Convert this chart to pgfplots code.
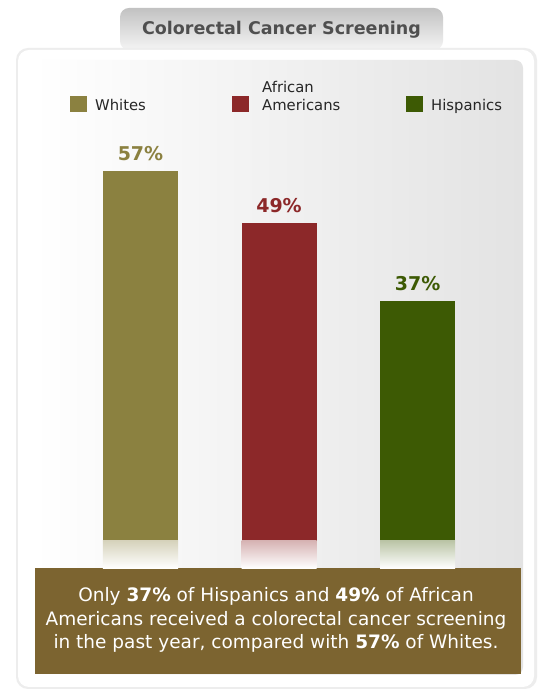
\documentclass[border=0pt]{standalone}
\usepackage{fontspec}
\setmainfont{DejaVu Sans}
\usepackage{pgfplots}
\pgfplotsset{compat=1.18}
\definecolor{cwhites}{HTML}{8B8140}
\definecolor{cafrican}{HTML}{8C2829}
\definecolor{chisp}{HTML}{3D5A04}
\definecolor{cbox}{HTML}{7C6430}
\definecolor{ctitle}{HTML}{4F4F4F}
\begin{document}
\begin{tikzpicture}[x=1pt,y=1pt]
\useasboundingbox (0,0) rectangle (543,690);
\fill[white] (0,0) rectangle (543,690);
% title tab
\shade[top color=black!24, bottom color=black!4, rounded corners=9pt] (120,640) rectangle (443,682);
\node[font=\bfseries\fontsize{17.5}{20}\selectfont, text=ctitle] at (281.5,660) {Colorectal Cancer Screening};
% outer and inner panels
\fill[black!7, rounded corners=12pt] (16,1) rectangle (537,642);
\fill[white, rounded corners=11pt] (18,3) rectangle (534,640);
\shade[left color=white, middle color=white, right color=black!11, rounded corners=8pt] (33,15) rectangle (523,630);
% caption box
\fill[cbox] (35,16) rectangle (521,122);
\node[text=white, align=center, font=\fontsize{18.5}{23.5}\selectfont] at (276,70)
  {Only \textbf{37\%} of Hispanics and \textbf{49\%} of African\\
   Americans received a colorectal cancer screening\\
   in the past year, compared with \textbf{57\%} of Whites.};
\begin{axis}[
    at={(33pt,149pt)}, anchor=south west,
    scale only axis, width=489pt, height=370pt,
    xmin=-0.776, xmax=2.754, ymin=0, ymax=57,
    hide axis, clip=false,
    ybar, bar width=75pt, bar shift=0pt,
    nodes near coords={\pgfmathprintnumber[assume math mode=true]{\pgfplotspointmeta}\%},
    every node near coord/.append style={font=\bfseries\fontsize{19}{22}\selectfont, yshift=7pt},
    legend columns=3,
    legend image code/.code={\fill[#1, draw=none] (0pt,-2pt) rectangle (17pt,14pt);},
    legend style={at={(rel axis cs:0,1)}, anchor=north west, xshift=37pt, yshift=93.5pt,
        draw=none, fill=none, inner sep=0pt, cells={anchor=base west},
        /tikz/every odd column/.style={column sep=6pt},
        font=\fontsize{14.8}{18}\selectfont, text=black!85},
]
\addplot[fill=cwhites, draw=none, every node near coord/.append style={text=cwhites}] coordinates {(0,57)};
\addlegendentry{\makebox[135pt][l]{Whites}}
\addplot[fill=cafrican, draw=none, every node near coord/.append style={text=cafrican}] coordinates {(1,49)};
\addlegendentry{\makebox[147pt][l]{\hspace{5pt}\begin{tabular}[b]{@{}l@{}}African\\Americans\end{tabular}}}
\addplot[fill=chisp, draw=none, every node near coord/.append style={text=chisp}] coordinates {(2,37)};
\addlegendentry{Hispanics}
% reflections
\shade[top color=cwhites!35, bottom color=white] (axis cs:-0.2708,0) rectangle (axis cs:0.2708,-4.2);
\shade[top color=cafrican!35, bottom color=white] (axis cs:0.7292,0) rectangle (axis cs:1.2708,-4.2);
\shade[top color=chisp!35, bottom color=white] (axis cs:1.7292,0) rectangle (axis cs:2.2708,-4.2);
\end{axis}
\end{tikzpicture}
\end{document}
